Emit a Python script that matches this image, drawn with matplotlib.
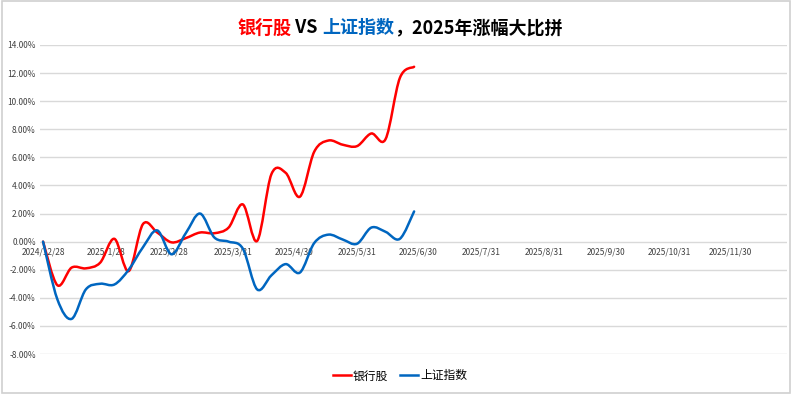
import matplotlib
matplotlib.use("Agg")
import matplotlib.pyplot as plt
import matplotlib.dates as mdates
from matplotlib.path import Path
from matplotlib.patches import PathPatch, Rectangle
from matplotlib.lines import Line2D
import numpy as np
import pandas as pd

plt.rcParams['font.family'] = ['Noto Sans CJK SC', 'DejaVu Sans']

# weekly points, cumulative change in %
weeks = pd.date_range('2024-12-28', periods=27, freq='7D')
bank = [0.0, -3.1, -1.85, -1.9, -1.5, 0.2, -2.1, 1.25, 0.65, -0.05, 0.25, 0.65, 0.6, 1.0,
        2.65, 0.05, 4.8, 4.9, 3.2, 6.4, 7.2, 6.9, 6.8, 7.7, 7.3, 11.65, 12.45]
sh_index = [0.0, -4.1, -5.5, -3.4, -3.0, -3.05, -2.0, -0.4, 0.8, -0.9, 0.6, 2.0, 0.3, 0.0,
            -0.5, -3.4, -2.4, -1.6, -2.2, -0.1, 0.5, 0.15, -0.15, 1.0, 0.7, 0.2, 2.15]

tick_dates = ['2024-12-28', '2025-01-28', '2025-02-28', '2025-03-31', '2025-04-30', '2025-05-31',
              '2025-06-30', '2025-07-31', '2025-08-31', '2025-09-30', '2025-10-31', '2025-11-30']
tick_labels = ['2024/12/28', '2025/1/28', '2025/2/28', '2025/3/31', '2025/4/30', '2025/5/31',
               '2025/6/30', '2025/7/31', '2025/8/31', '2025/9/30', '2025/10/31', '2025/11/30']
y_ticks = [-8, -6, -4, -2, 0, 2, 4, 6, 8, 10, 12, 14]

RED = '#FF0000'
BLUE = '#0066C0'


def smooth_path(x, y):
    # excel style smoothed line: bezier segments through every point
    x = np.asarray(x, float)
    y = np.asarray(y, float)
    px = np.concatenate([[x[0]], x, [x[-1]]])
    py = np.concatenate([[y[0]], y, [y[-1]]])
    verts = [(x[0], y[0])]
    codes = [Path.MOVETO]
    for i in range(len(x) - 1):
        c1 = (x[i] + (px[i + 2] - px[i]) / 6, y[i] + (py[i + 2] - py[i]) / 6)
        c2 = (x[i + 1] - (px[i + 3] - px[i + 1]) / 6, y[i + 1] - (py[i + 3] - py[i + 1]) / 6)
        verts += [c1, c2, (x[i + 1], y[i + 1])]
        codes += [Path.CURVE4] * 3
    return Path(verts, codes)


fig = plt.figure(figsize=(8, 3.94), dpi=100)
ax = fig.add_axes([0.05, 0.1015, 0.934, 0.7843])

xn = mdates.date2num(weeks)
for vals, col in [(bank, RED), (sh_index, BLUE)]:
    ax.add_patch(PathPatch(smooth_path(xn, vals), fill=False, edgecolor=col, lw=1.8,
                           capstyle='round', joinstyle='round', zorder=3))

start = mdates.date2num(pd.Timestamp('2024-12-28'))
ax.set_xlim(start - 1.5, start + 365)
ax.set_ylim(-8, 14)

ax.set_yticks(y_ticks)
ax.set_yticklabels([f'{v:.2f}%' for v in y_ticks])
ax.set_xticks(mdates.date2num(pd.to_datetime(tick_dates)))
ax.set_xticklabels(tick_labels)
ax.grid(axis='y', color='#d9d9d9', lw=1)
ax.grid(axis='x', visible=False)
ax.set_axisbelow(True)
for s in ax.spines.values():
    s.set_visible(False)
ax.spines['bottom'].set_position(('data', 0))
ax.tick_params(axis='both', length=0, labelsize=6, labelcolor='#404040')
ax.tick_params(axis='x', pad=4)
ax.tick_params(axis='y', pad=3)

# legend
handles = [Line2D([], [], color=RED, lw=1.8), Line2D([], [], color=BLUE, lw=1.8)]
fig.legend(handles, ['银行股', '上证指数'], loc='center', bbox_to_anchor=(0.5, 0.046),
           ncol=2, frameon=False, fontsize=8.5, handlelength=1.5, handletextpad=0.2,
           columnspacing=1.0)

# title with coloured parts
parts = [('银行股', RED), (' VS ', 'black'), ('上证指数', BLUE), ('，2025年涨幅大比拼', 'black')]
texts = [fig.text(0, 0.929, s, color=c, fontsize=13, fontweight='bold', va='center', ha='left')
         for s, c in parts]
fig.canvas.draw()
r = fig.canvas.get_renderer()
widths = [t.get_window_extent(r).width for t in texts]
xpos = (fig.bbox.width - sum(widths)) / 2
for t, w in zip(texts, widths):
    t.set_x(xpos / fig.bbox.width)
    xpos += w

fig.patches.append(Rectangle((0.002, 0.003), 0.985, 0.994, transform=fig.transFigure,
                             fill=False, edgecolor='#d0d0d0', lw=1.2))

plt.savefig('out.png', dpi=100)
